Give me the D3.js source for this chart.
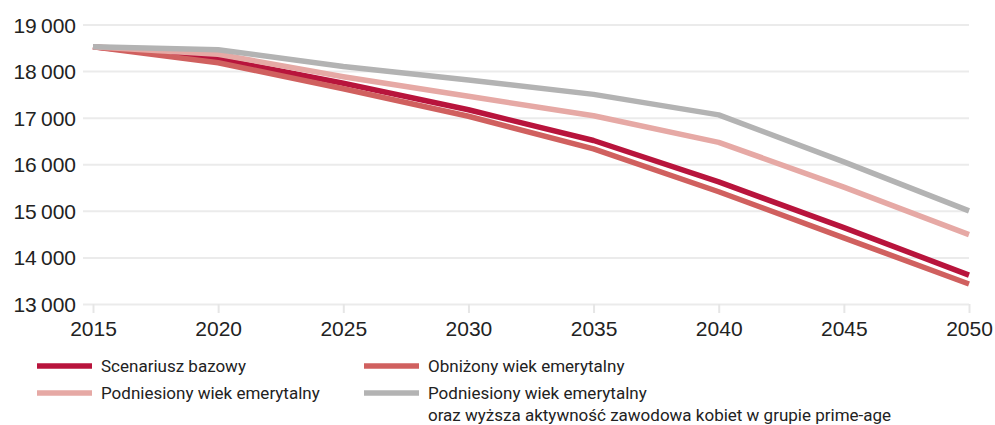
<!DOCTYPE html>
<html>
<head>
<meta charset="utf-8">
<script src="https://cdn.jsdelivr.net/npm/d3@7"></script>
<style>
  html, body { margin: 0; padding: 0; background: #fff; }
  svg { display: block; font-family: Roboto, "Noto Sans", sans-serif; }
</style>
</head>
<body>
<svg id="chart" width="995" height="425"></svg>
<script>
// Years on the horizontal axis
const years = [2015, 2020, 2025, 2030, 2035, 2040, 2045, 2050];

// Population projections (thousands) for each scenario
const bazowy     = [18520, 18260, 17740, 17170, 16510, 15620, 14640, 13620];
const obnizony   = [18520, 18180, 17620, 17030, 16330, 15410, 14420, 13430];
const podniesiony = [18520, 18360, 17880, 17460, 17040, 16470, 15510, 14490];
const podniesionyKobiety = [18520, 18460, 18100, 17810, 17500, 17060, 16050, 15000];

const yTicks = [13000, 14000, 15000, 16000, 17000, 18000, 19000];

const seriesNames = [
  "Scenariusz bazowy",
  "Obniżony wiek emerytalny",
  "Podniesiony wiek emerytalny",
  "Podniesiony wiek emerytalny\noraz wyższa aktywność zawodowa kobiet w grupie prime-age"
];
const seriesValues = [bazowy, obnizony, podniesiony, podniesionyKobiety];
const seriesColors = ["#b8143c", "#d0605f", "#e6a9a5", "#b3b3b3"];

const svg = d3.select("#chart");
const x = d3.scaleLinear().domain([2015, 2050]).range([93, 969]);
const y = d3.scaleLinear().domain([13000, 19000]).range([304, 24.5]);

const fmt = v => d3.format(",")(v).replace(/,/g, "\u2009");

// Horizontal gridlines with left-hand labels
const yAxis = d3.axisLeft(y).tickValues(yTicks).tickFormat(fmt)
  .tickSize(-(x(2050) - 83)).tickPadding(7);
const gy = svg.append("g").attr("transform", "translate(83,0)").call(yAxis);
gy.select(".domain").remove();
gy.selectAll(".tick line").attr("stroke", "#ebebeb").attr("stroke-width", 2);
gy.selectAll(".tick text").attr("fill", "#222").style("font-size", "21px")
  .attr("dy", "0.36em");

// Year ticks below the baseline
const xAxis = d3.axisBottom(x).tickValues(years).tickFormat(d3.format("d"))
  .tickSize(9).tickPadding(8);
const gx = svg.append("g").attr("transform", "translate(0,304)").call(xAxis);
gx.select(".domain").remove();
gx.selectAll(".tick line").attr("stroke", "#e6e6e6").attr("stroke-width", 2);
gx.selectAll(".tick text").attr("fill", "#222").style("font-size", "21px");

// Scenario lines
const line = d3.line().x((d, i) => x(years[i])).y(d => y(d));
seriesValues.forEach((vals, k) => {
  svg.append("path")
    .datum(vals)
    .attr("d", line)
    .attr("fill", "none")
    .attr("stroke", seriesColors[k])
    .attr("stroke-width", 5.5)
    .attr("stroke-linejoin", "round");
});

// Legend: two columns, two rows
const legendPos = [
  { x: 37, y: 366 }, { x: 364, y: 366 },
  { x: 37, y: 393 }, { x: 364, y: 393 }
];
seriesNames.forEach((name, k) => {
  const p = legendPos[k];
  const g = svg.append("g").attr("transform", `translate(${p.x},${p.y})`);
  g.append("line").attr("x1", 0).attr("x2", 55).attr("y1", 0).attr("y2", 0)
    .attr("stroke", seriesColors[k]).attr("stroke-width", 5.5);
  const t = g.append("text").attr("x", 64).attr("y", 6)
    .attr("fill", "#222").style("font-size", "17px");
  name.split("\n").forEach((ln, j) => {
    t.append("tspan").attr("x", 64).attr("dy", j === 0 ? 0 : 22).text(ln);
  });
});
</script>
</body>
</html>
